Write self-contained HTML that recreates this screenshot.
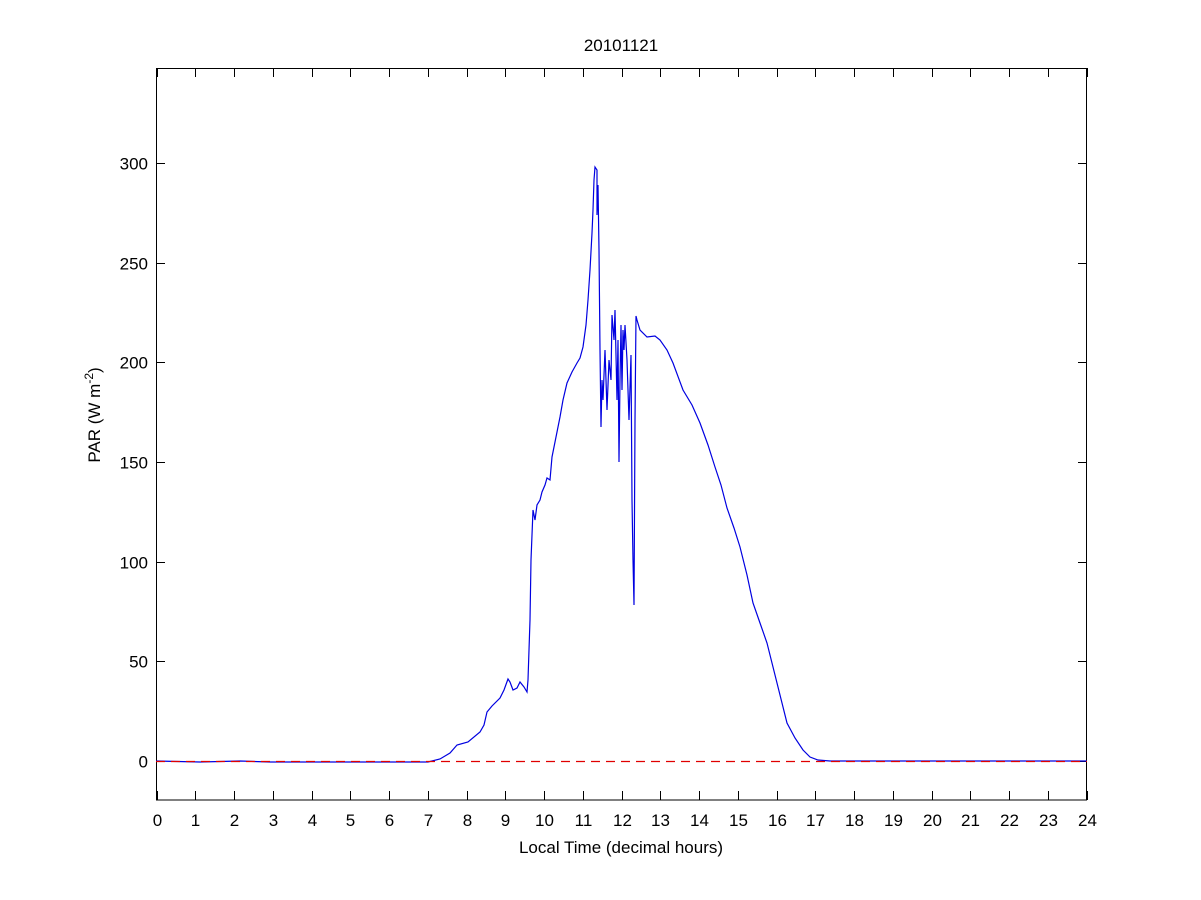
<!DOCTYPE html>
<html><head><meta charset="utf-8"><style>body{margin:0;background:#fff}svg{display:block}text{font-family:"Liberation Sans",sans-serif;font-size:17px;fill:#000}</style></head><body>
<svg width="1201" height="900" xmlns="http://www.w3.org/2000/svg">
<rect width="1201" height="900" fill="#fff"/>
<g stroke="#000" stroke-width="1">
<rect x="156.5" y="68.5" width="930" height="731.5" fill="none"/>
</g>
<g id="xt" stroke="#000" stroke-width="1"></g>
<g id="xl" text-anchor="middle"></g>
<g id="yt" stroke="#000" stroke-width="1"></g>
<g id="yl" text-anchor="end"></g>
<polyline fill="none" stroke="#0000e0" stroke-width="1.2" points="156,761 200,762 240,761 270,762 300,762 350,762 400,762 428,762 440,759 450,753 457,745 468,742 480,732 484,725 487,712 492,706 500,698 504,690 508,679 510,682 513,690 517,688 520,682 524,687 527,692 528,680 530,620 531,560 533,510 535,520 537,505 540,500 542,492 545,485 547,478 550,480 552,457 556,437 560,417 563,400 567,383 572,372 577,363 580,358 583,347 586,325 588,300 590,270 592,233 593,210 594,180 595,167 597,170 597,215 598,185 599,250 600,350 601,427 602,380 603,400 605,350 607,410 609,360 611,380 612,315 614,340 615,310 617,400 618,340 619,462 620,380 621,325 622,390 623,330 624,350 625,325 627,360 629,420 631,355 632,500 633,560 634,605 635,420 636,316 637,320 640,330 647,337 655,336 660,340 667,350 673,363 683,390 692,405 700,423 708,445 715,467 721,485 727,508 734,528 740,547 747,575 753,603 760,623 767,643 777,683 787,723 795,738 803,750 810,757 818,760 830,761 1087,761"/>
<line x1="156" y1="761.5" x2="1087" y2="761.5" stroke="#e00000" stroke-width="1.2" stroke-dasharray="9,6"/>
<text x="621" y="51" text-anchor="middle">20101121</text>
<text x="621" y="853" text-anchor="middle">Local Time (decimal hours)</text>
<text transform="translate(100,415) rotate(-90)" text-anchor="middle">PAR (W m<tspan dy="-7" font-size="12">-2</tspan><tspan dy="7">)</tspan></text>
<script>
var ns="http://www.w3.org/2000/svg";
function el(p,t,a,txt){var e=document.createElementNS(ns,t);for(var k in a)e.setAttribute(k,a[k]);if(txt!==undefined)e.textContent=txt;document.getElementById(p).appendChild(e);}
for(var i=0;i<=24;i++){var x=156.5+i*930/24;x=Math.round(x)+0.5;
el("xt","line",{x1:x,y1:800,x2:x,y2:791});el("xt","line",{x1:x,y1:68,x2:x,y2:77});
el("xl","text",{x:x,y:826},String(i));}
for(var v=0;v<=300;v+=50){var y=Math.round(761-v*1.993)+0.5;
el("yt","line",{x1:156,y1:y,x2:165,y2:y});el("yt","line",{x1:1087,y1:y,x2:1078,y2:y});
el("yl","text",{x:148,y:y+6},String(v));}
</script>
</svg>
</body></html>
